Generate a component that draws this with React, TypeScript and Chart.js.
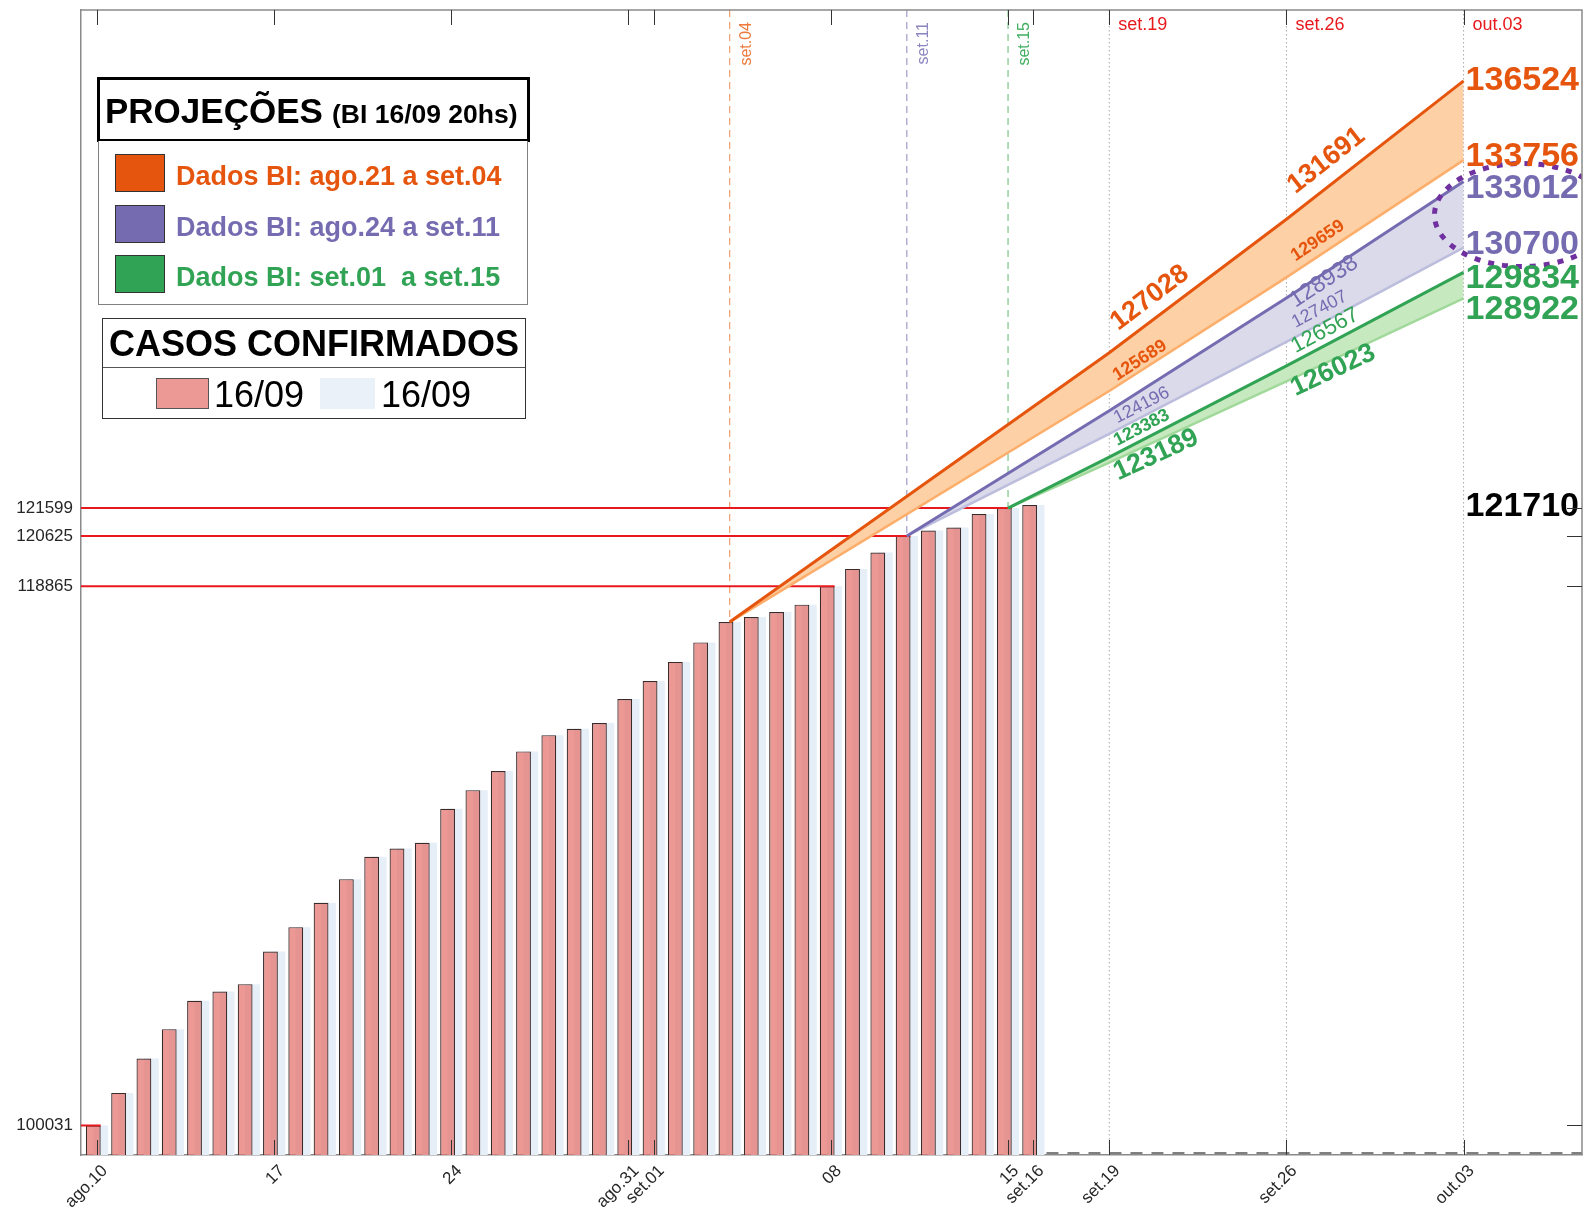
import React, { useEffect, useRef } from 'react';
import { Chart, registerables } from 'chart.js';

Chart.register(...registerables);

const FONT = '"Liberation Sans", Arial, Helvetica, sans-serif';

// ---------------- DATA ----------------
// Confirmed cases, one value per day (index = days since ago.10)
const confirmed = [
  100031, 101170, 102372, 103396, 104385, 104713, 104968, 106111, 106960, 107809,
  108637, 109416, 109709, 109905, 111093, 111746, 112411, 113099, 113668, 113888,
  114088, 114926, 115555, 116226, 116907, 117618, 117793, 117968, 118227, 118865,
  119475, 120049, 120625, 120819, 120924, 121389, 121599, 121710,
];
const confirmedPrev = [
  100031, 101170, 102372, 103396, 104385, 104713, 104968, 106111, 106960, 107809,
  108637, 109416, 109709, 109905, 111093, 111746, 112411, 113099, 113668, 113888,
  114088, 114926, 115555, 116226, 116907, 117618, 117793, 117968, 118227, 118865,
  119475, 120049, 120625, 120819, 120924, 121389, 121599, 121710,
];

const xTickDays = [0, 7, 14, 21, 22, 29, 36, 37, 40, 47, 54];
const xTickLabels = ['ago.10', '17', '24', 'ago.31', 'set.01', '08', '15', 'set.16', 'set.19', 'set.26', 'out.03'];

// days whose confirmed value gets a red reference line and a y tick
const refDays = [0, 29, 32, 36];

// projections (days since ago.10, values)
const orangeDays = [25, 40, 47, 54];
const orangeHigh = [117618, 127028, 131691, 136524];
const orangeLow = [117618, 125689, 129659, 133756];
const purpleDays = [32, 40, 47, 54];
const purpleHigh = [120625, 125000, 128938, 133012];
const purpleLow = [120625, 124196, 127407, 130700];
const greenDays = [36, 40, 47, 54];
const greenHigh = [121599, 123383, 126567, 129834];
const greenLow = [121599, 123189, 126023, 128922];

const fitMarkDays = [25, 32, 36];
const fitMarkLabels = ['set.04', 'set.11', 'set.15'];
const projMarkDays = [40, 47, 54];
const projMarkLabels = ['set.19', 'set.26', 'out.03'];

// ---------------- STYLE ----------------
const C = {
  orange: '#e6550d',
  orangeLight: '#fdae6b',
  orangeFill: '#fdd0a6',
  purple: '#756bb1',
  purpleLight: '#bcbddc',
  purpleFill: '#dadaeb',
  green: '#31a354',
  greenLight: '#a1d99b',
  greenFill: '#c7e9c0',
  pink: 'rgba(230,118,112,0.75)',
  pinkSolid: '#ec9894',
  blue: '#e6eef7',
  red: '#e8191d',
  axis: '#8a8a8a',
  text: '#262626',
};

const series: Record<string, { days: number[]; values: number[] }> = {
  orangeHigh: { days: orangeDays, values: orangeHigh },
  orangeLow: { days: orangeDays, values: orangeLow },
  purpleHigh: { days: purpleDays, values: purpleHigh },
  purpleLow: { days: purpleDays, values: purpleLow },
  greenHigh: { days: greenDays, values: greenHigh },
  greenLow: { days: greenDays, values: greenLow },
};
const seriesOrder = ['orangeHigh', 'orangeLow', 'purpleHigh', 'purpleLow', 'greenHigh', 'greenLow'];
const seriesStyle: Record<string, { color: string; width: number; fill?: string }> = {
  orangeHigh: { color: C.orange, width: 3 },
  orangeLow: { color: C.orangeLight, width: 2.5, fill: C.orangeFill },
  purpleHigh: { color: C.purple, width: 3 },
  purpleLow: { color: C.purpleLight, width: 2.5, fill: C.purpleFill },
  greenHigh: { color: C.green, width: 3 },
  greenLow: { color: C.greenLight, width: 2.5, fill: C.greenFill },
};

// labels along the lines: seg = point index where label starts
const angledLabels = [
  { key: 'orangeHigh', seg: 1, sx: 9, v: 15, size: 27, weight: 'bold', color: C.orange },
  { key: 'orangeLow', seg: 1, sx: 8, v: 5, size: 18, weight: 'bold', color: C.orange },
  { key: 'purpleLow', seg: 1, sx: 8, v: 6, size: 18, weight: 'normal', color: C.purple },
  { key: 'greenHigh', seg: 1, sx: 8, v: 7, size: 18, weight: 'bold', color: C.green },
  { key: 'greenLow', seg: 1, sx: 9, v: -22, size: 27, weight: 'bold', color: C.green },
  { key: 'orangeHigh', seg: 2, sx: 9, v: 18, size: 27, weight: 'bold', color: C.orange },
  { key: 'orangeLow', seg: 2, sx: 9, v: 10, size: 18, weight: 'bold', color: C.orange },
  { key: 'purpleHigh', seg: 2, sx: 9, v: -16, size: 23, weight: 'normal', color: C.purple },
  { key: 'purpleLow', seg: 2, sx: 9, v: 9, size: 18, weight: 'normal', color: C.purple },
  { key: 'greenHigh', seg: 2, sx: 9, v: 8, size: 22, weight: 'normal', color: C.green },
  { key: 'greenLow', seg: 2, sx: 9, v: -19, size: 27, weight: 'bold', color: C.green },
];

const endLabels = [
  { key: 'orangeHigh', color: C.orange, dy: 0 },
  { key: 'orangeLow', color: C.orange, dy: -3 },
  { key: 'purpleHigh', color: C.purple, dy: 7 },
  { key: 'purpleLow', color: C.purple, dy: -3 },
  { key: 'greenHigh', color: C.green, dy: 6 },
  { key: 'greenLow', color: C.green, dy: 11 },
];

const highlight = { day: 56.33, value: 131838, rxDays: 3.48, ryValue: 1800, color: '#7030a0' };

const fitMarkColors = ['#f0a070', '#a09cc8', '#7cc48a'];
const fitTextColors = ['#ec7a3c', '#8c86c0', '#3fae60'];

// ---------------- PLUGIN ----------------
const overlayPlugin = {
  id: 'overlay',
  beforeDatasetsDraw(chart: any) {
    const { ctx, chartArea: ca, scales } = chart;
    const x = scales.x;
    ctx.save();
    fitMarkDays.forEach((d, i) => {
      const px = x.getPixelForValue(d);
      ctx.strokeStyle = fitMarkColors[i];
      ctx.lineWidth = 1.2;
      ctx.setLineDash([7, 5]);
      ctx.beginPath();
      ctx.moveTo(px, ca.top);
      ctx.lineTo(px, ca.bottom);
      ctx.stroke();
    });
    projMarkDays.forEach((d) => {
      const px = x.getPixelForValue(d);
      ctx.strokeStyle = '#a8a8a8';
      ctx.lineWidth = 1;
      ctx.setLineDash([1.5, 2.5]);
      ctx.beginPath();
      ctx.moveTo(px, ca.top);
      ctx.lineTo(px, ca.bottom);
      ctx.stroke();
    });
    ctx.restore();
  },
  afterDatasetDraw(chart: any, args: any) {
    if (args.index !== 0) return;
    const { ctx, chartArea: ca } = chart;
    const meta = chart.getDatasetMeta(0);
    ctx.save();
    ctx.strokeStyle = C.red;
    ctx.lineWidth = 2;
    refDays.forEach((d) => {
      const el = meta.data[d];
      if (!el) return;
      ctx.beginPath();
      ctx.moveTo(ca.left, el.y);
      ctx.lineTo(el.x + el.width / 2, el.y);
      ctx.stroke();
    });
    // dashed baseline after last bar
    const blueMeta = chart.getDatasetMeta(1);
    const last = blueMeta.data[blueMeta.data.length - 1];
    ctx.strokeStyle = '#555555';
    ctx.lineWidth = 1.6;
    ctx.setLineDash([12, 9]);
    ctx.beginPath();
    ctx.moveTo(last.x + last.width / 2 + 2, ca.bottom - 2);
    ctx.lineTo(ca.right, ca.bottom - 2);
    ctx.stroke();
    ctx.restore();
  },
  afterDatasetsDraw(chart: any) {
    const { ctx, chartArea: ca, scales } = chart;
    const x = scales.x;
    const y = scales.y;
    ctx.save();

    // ellipse highlight
    ctx.save();
    ctx.beginPath();
    ctx.rect(ca.left, ca.top, ca.right - ca.left, ca.bottom - ca.top);
    ctx.clip();
    const cx = x.getPixelForValue(highlight.day);
    const cy = y.getPixelForValue(highlight.value);
    const rx = x.getPixelForValue(highlight.day + highlight.rxDays) - cx;
    const ry = cy - y.getPixelForValue(highlight.value + highlight.ryValue);
    ctx.strokeStyle = highlight.color;
    ctx.lineWidth = 5;
    ctx.setLineDash([6, 8]);
    ctx.beginPath();
    ctx.ellipse(cx, cy, rx, ry, 0, 0, Math.PI * 2);
    ctx.stroke();
    ctx.restore();

    // angled labels
    angledLabels.forEach((lab) => {
      const idx = 2 + seriesOrder.indexOf(lab.key);
      const pts = chart.getDatasetMeta(idx).data;
      const p0 = pts[lab.seg];
      const p1 = pts[lab.seg + 1];
      if (!p0 || !p1) return;
      const slope = (p1.y - p0.y) / (p1.x - p0.x);
      const ang = Math.atan2(p1.y - p0.y, p1.x - p0.x);
      const ox = p0.x + lab.sx;
      const oy = p0.y + slope * lab.sx - lab.v;
      ctx.save();
      ctx.translate(ox, oy);
      ctx.rotate(ang);
      ctx.font = `${lab.weight} ${lab.size}px ${FONT}`;
      ctx.fillStyle = lab.color;
      ctx.textAlign = 'left';
      ctx.textBaseline = 'alphabetic';
      ctx.fillText(String(series[lab.key].values[lab.seg]), 0, 0);
      ctx.restore();
    });

    // end labels
    const endX = x.getPixelForValue(projMarkDays[projMarkDays.length - 1]) + 2;
    ctx.font = `bold 34px ${FONT}`;
    ctx.textAlign = 'left';
    ctx.textBaseline = 'middle';
    endLabels.forEach((lab) => {
      const vals = series[lab.key].values;
      const v = vals[vals.length - 1];
      ctx.fillStyle = lab.color;
      ctx.fillText(String(v), endX, y.getPixelForValue(v) + lab.dy);
    });
    const lastVal = confirmed[confirmed.length - 1];
    ctx.fillStyle = '#000000';
    ctx.fillText(String(lastVal), endX, y.getPixelForValue(lastVal) + 2);

    // top labels
    ctx.font = `16px ${FONT}`;
    fitMarkDays.forEach((d, i) => {
      const px = x.getPixelForValue(d);
      ctx.save();
      ctx.translate(px + 21, ca.top + 12);
      ctx.rotate(-Math.PI / 2);
      ctx.fillStyle = fitTextColors[i];
      ctx.textAlign = 'right';
      ctx.textBaseline = 'alphabetic';
      ctx.fillText(fitMarkLabels[i], 0, 0);
      ctx.restore();
    });
    ctx.font = `18px ${FONT}`;
    projMarkDays.forEach((d, i) => {
      const px = x.getPixelForValue(d);
      ctx.fillStyle = C.red;
      ctx.textAlign = 'left';
      ctx.textBaseline = 'alphabetic';
      ctx.fillText(projMarkLabels[i], px + 9, ca.top + 20);
    });

    // box: top & right borders
    ctx.strokeStyle = C.axis;
    ctx.lineWidth = 1.5;
    ctx.setLineDash([]);
    ctx.beginPath();
    ctx.moveTo(ca.left, ca.top);
    ctx.lineTo(ca.right, ca.top);
    ctx.lineTo(ca.right, ca.bottom);
    ctx.stroke();

    // inner tick marks
    ctx.strokeStyle = '#333333';
    ctx.lineWidth = 1;
    const tl = 15;
    xTickDays.forEach((d) => {
      const px = Math.round(x.getPixelForValue(d)) + 0.5;
      ctx.beginPath();
      ctx.moveTo(px, ca.bottom);
      ctx.lineTo(px, ca.bottom - tl);
      ctx.moveTo(px, ca.top);
      ctx.lineTo(px, ca.top + tl);
      ctx.stroke();
    });
    refDays.forEach((d) => {
      const py = Math.round(y.getPixelForValue(confirmed[d])) + 0.5;
      ctx.beginPath();
      ctx.moveTo(ca.right, py);
      ctx.lineTo(ca.right - tl, py);
      ctx.stroke();
    });
    ctx.restore();
  },
};

// ---------------- LEGEND ----------------
const txt = (left: number, baseline: number, size: number, weight: string, color: string, text: string, extra: any = {}) => (
  <div
    style={{
      position: 'absolute',
      left,
      top: baseline - 0.8465 * size,
      fontSize: size,
      lineHeight: `${size}px`,
      fontWeight: weight as any,
      color,
      fontFamily: FONT,
      whiteSpace: 'pre',
      ...extra,
    }}
  >
    {text}
  </div>
);

const box = (left: number, top: number, width: number, height: number, style: any) => (
  <div style={{ position: 'absolute', left, top, width, height, boxSizing: 'border-box', ...style }} />
);

const legendRows = [
  { label: 'Dados BI: ago.21 a set.04', color: C.orange },
  { label: 'Dados BI: ago.24 a set.11', color: C.purple },
  { label: 'Dados BI: set.01  a set.15', color: C.green },
];

const zeroPad = (s: any) => {
  s.paddingTop = 0;
  s.paddingBottom = 0;
  s.paddingLeft = 0;
  s.paddingRight = 0;
};

export default function App() {
  const ref = useRef<HTMLCanvasElement | null>(null);

  useEffect(() => {
    document.body.style.margin = '0';
    const canvas = ref.current;
    if (!canvas) return;
    Chart.defaults.font.family = FONT;

    const datasets: any[] = [
      {
        type: 'bar',
        label: '16/09',
        data: confirmed.map((v, i) => ({ x: i, y: v })),
        backgroundColor: C.pink,
        borderColor: '#3a2b2b',
        borderWidth: 1.2,
        categoryPercentage: 0.585,
        barPercentage: 2.0,
        order: 1,
      },
      {
        type: 'bar',
        label: '16/09 ',
        data: confirmedPrev.map((v, i) => ({ x: i, y: v })),
        backgroundColor: C.blue,
        borderWidth: 0,
        categoryPercentage: 0.585,
        barPercentage: 2.0,
        order: 1,
      },
    ];
    seriesOrder.forEach((key) => {
      const s = series[key];
      const st = seriesStyle[key];
      datasets.push({
        type: 'line',
        label: key,
        data: s.days.map((d, i) => ({ x: d, y: s.values[i] })),
        borderColor: st.color,
        borderWidth: st.width,
        pointRadius: 0,
        tension: 0,
        fill: st.fill ? '-1' : false,
        backgroundColor: st.fill || 'transparent',
        order: 0,
      });
    });

    const chart = new Chart(canvas, {
      type: 'line',
      data: { datasets },
      options: {
        responsive: false,
        animation: false,
        events: [],
        layout: { padding: { top: 10, right: 4, left: 0, bottom: 0 } },
        plugins: { legend: { display: false }, tooltip: { enabled: false } },
        scales: {
          x: {
            type: 'linear',
            min: -0.632,
            max: 58.68,
            offset: false,
            afterBuildTicks: (s: any) => {
              s.ticks = xTickDays.map((v) => ({ value: v }));
            },
            afterFit: (s: any) => {
              s.height = 57;
              zeroPad(s);
            },
            ticks: {
              autoSkip: false,
              maxRotation: 45,
              minRotation: 45,
              padding: 6,
              labelOffset: 8,
              color: C.text,
              font: { size: 17, family: FONT },
              callback: (v: any) => {
                const i = xTickDays.indexOf(Number(v));
                return i >= 0 ? xTickLabels[i] : '';
              },
            },
            grid: { display: false, drawTicks: false },
            border: { display: true, color: C.axis, width: 1.5 },
          },
          y: {
            type: 'linear',
            min: 99000,
            max: 139000,
            beginAtZero: false,
            afterBuildTicks: (s: any) => {
              s.ticks = refDays.map((d) => ({ value: confirmed[d] }));
            },
            afterFit: (s: any) => {
              s.width = 81;
              zeroPad(s);
            },
            ticks: {
              autoSkip: false,
              padding: 8,
              color: C.text,
              font: { size: 17, family: FONT },
              callback: (v: any) => String(v),
            },
            grid: { display: false, drawTicks: false },
            border: { display: true, color: C.axis, width: 1.5 },
          },
        },
      } as any,
      plugins: [overlayPlugin],
    });

    return () => {
      chart.destroy();
    };
  }, []);

  return (
    <div style={{ position: 'absolute', left: 0, top: 0, width: 1586, height: 1212, background: '#fff' }}>
      <canvas ref={ref} width={1586} height={1212} style={{ position: 'absolute', left: 0, top: 0, width: 1586, height: 1212 }} />
      {/* Projection legend */}
      {box(97, 77, 433, 65, { border: '3px solid #000', background: '#fff' })}
      {txt(105, 123, 35, 'bold', '#000', 'PROJEÇÕES')}
      {txt(332, 123, 26.5, 'bold', '#000', '(BI 16/09 20hs)')}
      {box(98, 141, 430, 164, { border: '1.3px solid #808080', borderTop: 'none', background: '#fff' })}
      {legendRows.map((r, i) => (
        <React.Fragment key={i}>
          {box(115, 154 + i * 50.5, 50, 38, { border: '1px solid #333', background: r.color })}
          {txt(176, 186 + i * 50.5, 27, 'bold', r.color, r.label)}
        </React.Fragment>
      ))}
      {/* Confirmed legend */}
      {box(102, 318, 424, 101, { border: '1.3px solid #333', background: '#fff' })}
      {box(103, 367, 422, 1.3, { background: '#555' })}
      {txt(102, 356, 36, 'bold', '#000', 'CASOS CONFIRMADOS', { width: 424, textAlign: 'center' })}
      {box(156, 378, 53, 31, { border: '1px solid #555', background: C.pinkSolid })}
      {txt(214, 407, 36, 'normal', '#000', '16/09')}
      {box(320, 378, 55, 31, { background: '#eaf1f9' })}
      {txt(381, 407, 36, 'normal', '#000', '16/09')}
    </div>
  );
}
